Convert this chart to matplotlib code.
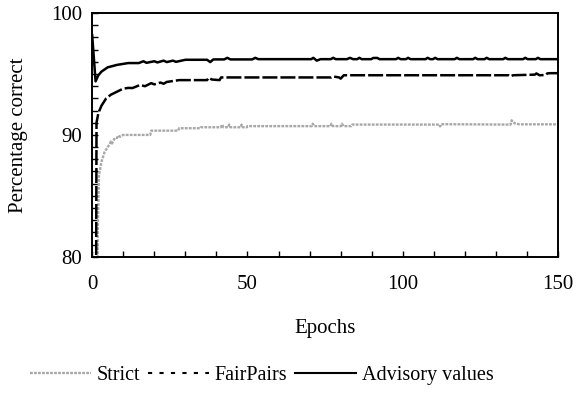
import matplotlib

matplotlib.use("Agg")
import matplotlib.pyplot as plt
from matplotlib.lines import Line2D
from matplotlib.ticker import MultipleLocator

plt.rcParams["font.family"] = ["Liberation Serif", "DejaVu Serif"]

# Advisory values (solid black)
adv_epochs = [0, 1.1, 2, 3, 5, 8, 11.6, 15, 16.5, 17.5, 20, 21, 23, 24, 26, 27, 30,
              37, 38, 39, 42.5, 43.5, 44.5, 51.5, 52.5, 53.5, 70.5, 71.2, 72.3, 73.5,
              76.8, 77.6, 78.4, 82, 83, 84, 85.3, 86, 86.8, 89.8, 90.5, 91.8, 92.5,
              97.8, 98.5, 99.3, 101, 101.7, 102.5, 107.3, 108, 108.8, 109.7, 110.4,
              111.2, 116.7, 117.4, 118.2, 122.6, 123.3, 124.1, 126.3, 127, 127.8,
              132.3, 133, 133.8, 138.7, 139.4, 140.2, 142.8, 143.5, 144.3, 150]
adv_values = [98.2, 94.4, 94.9, 95.2, 95.55, 95.75, 95.9, 95.9, 96.05, 95.92, 96.05,
              95.95, 96.1, 95.98, 96.1, 96.0, 96.17, 96.17, 95.98, 96.2, 96.2, 96.33,
              96.2, 96.2, 96.33, 96.22, 96.22, 96.33, 96.1, 96.22, 96.22, 96.33,
              96.22, 96.22, 96.33, 96.22, 96.22, 96.33, 96.22, 96.22, 96.32, 96.32,
              96.22, 96.22, 96.33, 96.22, 96.22, 96.33, 96.22, 96.22, 96.33, 96.22,
              96.22, 96.33, 96.22, 96.22, 96.33, 96.22, 96.22, 96.33, 96.22, 96.22,
              96.33, 96.22, 96.22, 96.33, 96.22, 96.22, 96.33, 96.22, 96.22, 96.33,
              96.22, 96.22]

# FairPairs (dashed black)
fp_epochs = [1.1, 1.4, 2, 3, 4.5, 6, 8, 10, 11.6, 13, 15.4, 17, 19, 20, 22, 23, 24,
             28, 37, 37.5, 38.5, 41, 41.5, 77, 77.5, 79.5, 80, 81, 134, 134.5, 135.5,
             142.5, 143, 144, 146, 146.5, 147.5, 150]
fp_values = [60.0, 91.0, 91.8, 92.4, 93.0, 93.3, 93.55, 93.8, 93.86, 93.85, 94.1,
             94.0, 94.25, 94.15, 94.3, 94.2, 94.35, 94.5, 94.5, 94.7, 94.55, 94.5,
             94.72, 94.72, 94.8, 94.72, 94.62, 94.9, 94.9, 94.8, 94.9, 94.95, 95.05,
             94.9, 94.92, 95.05, 95.07, 95.07]

# Strict (light grey)
st_epochs = [1.6, 1.8, 2.2, 3, 4, 5.5, 6, 6.4, 7.3, 8, 8.4, 9, 10, 15.4, 18.7, 19,
             27.7, 28, 34.8, 35, 41.5, 41.8, 42.3, 43.8, 44.1, 44.5, 47.8, 48.1,
             48.5, 49.8, 50, 70.7, 71, 71.5, 76.7, 77, 77.5, 80.1, 80.4, 80.9, 83.4,
             83.7, 111.7, 112, 112.3, 134.7, 135, 136, 137.5, 150]
st_values = [70.0, 82.0, 86.7, 87.8, 88.6, 89.2, 89.45, 89.3, 89.75, 89.75, 89.95,
             89.85, 90.0, 90.0, 90.0, 90.35, 90.35, 90.55, 90.55, 90.63, 90.63,
             90.85, 90.63, 90.63, 90.85, 90.63, 90.63, 90.85, 90.63, 90.63, 90.72,
             90.72, 90.92, 90.72, 90.72, 90.92, 90.72, 90.72, 90.92, 90.72, 90.72,
             90.85, 90.85, 90.7, 90.88, 90.85, 91.2, 90.95, 90.87, 90.87]

series_labels = ["Strict", "FairPairs", "Advisory values"]

fig = plt.figure(figsize=(5.76, 3.98), dpi=100)
ax = fig.add_axes([0.160, 0.355, 0.809, 0.612])

ax.plot(st_epochs, st_values, color="#a8a8a8", lw=1.7, ls=(0, (1.2, 0.5)))
ax.plot(fp_epochs, fp_values, color="black", lw=1.8, ls=(0, (6, 1.2)))
ax.plot(adv_epochs, adv_values, color="black", lw=1.8)

ax.set_xlim(0, 150)
ax.set_ylim(80, 100)
ax.set_xticks([0, 50, 100, 150])
ax.set_yticks([80, 90, 100])
ax.xaxis.set_minor_locator(MultipleLocator(10))
ax.yaxis.set_minor_locator(MultipleLocator(1))
ax.tick_params(axis="both", which="both", direction="in", length=4, width=1,
               labelsize=15)
ax.tick_params(axis="x", which="major", pad=13)
ax.tick_params(axis="y", which="major", pad=7)
for sp in ax.spines.values():
    sp.set_linewidth(1.4)

ax.set_xlabel("Epochs", fontsize=15, labelpad=18)
ax.set_ylabel("Percentage correct", fontsize=15)
ax.yaxis.set_label_coords(-0.137, 0.5)

handles = [
    Line2D([], [], color="#a8a8a8", lw=1.7, ls=(0, (1.2, 0.5))),
    Line2D([], [], color="black", lw=1.5, ls=(0, (2, 3.5))),
    Line2D([], [], color="black", lw=1.5),
]
fig.legend(handles, series_labels, loc="center", bbox_to_anchor=(262 / 576, 1 - 375 / 398),
           ncol=3, frameon=False, fontsize=14.5, handlelength=3.0, handletextpad=0.3,
           columnspacing=0.4)

fig.savefig("out.png", dpi=100, facecolor="white")
